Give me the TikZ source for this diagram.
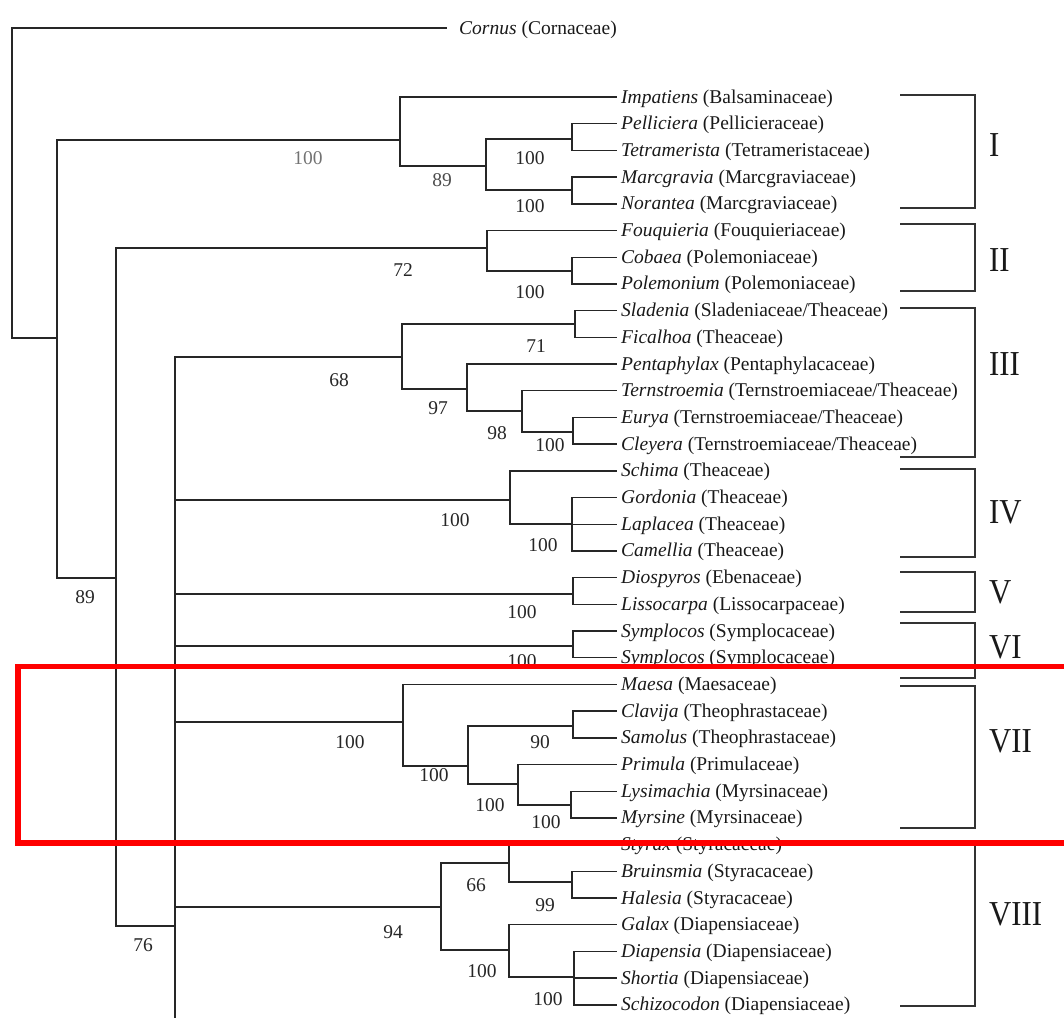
\documentclass[tikz,border=0pt]{standalone}
\usepackage{fontspec}
\usepackage{graphicx}
\setmainfont{Liberation Serif}
\begin{document}
\begin{tikzpicture}[x=1pt,y=-1pt,
  br/.style={draw=black!85, line width=1.4pt},
  bk/.style={draw=black!80, line width=1.8pt},
  leaf/.style={anchor=base west, inner sep=0pt, font=\fontsize{19.5}{20}\selectfont, text=black!90},
  sup/.style={inner sep=0pt, font=\fontsize{19.5}{20}\selectfont, text=black!85},
  clade/.style={anchor=base west, inner sep=0pt, font=\fontsize{35}{36}\selectfont, text=black!90}]
\useasboundingbox (0,0) rectangle (1064,1017);

% leaf attachment points
\foreach \i in {0,...,34} { \coordinate (l\i) at (617, 97+26.7*\i); }
\coordinate (lc) at (447,28);

% internal nodes
\coordinate (root) at (12,183);
\coordinate (A) at (57,338);
\coordinate (I) at (400,140);
\coordinate (nIa) at (486,166);
\coordinate (nPe) at (572,139);
\coordinate (nMa) at (572,190);
\coordinate (B) at (116,578);
\coordinate (II) at (487,248);
\coordinate (nCo) at (572,271);
\coordinate (C) at (175,926);
\coordinate (Cend) at (175,1040);
\coordinate (III) at (402,357);
\coordinate (nSl) at (575,324);
\coordinate (nPen) at (467,389);
\coordinate (nTe) at (522,411);
\coordinate (nEu) at (573,432);
\coordinate (IV) at (510,500);
\coordinate (nGo) at (572,524);
\coordinate (V) at (573,594);
\coordinate (VI) at (573,646);
\coordinate (VII) at (403,722);
\coordinate (nCl) at (468,766);
\coordinate (nCS) at (573,726);
\coordinate (nPr) at (518,784);
\coordinate (nLy) at (571,805);
\coordinate (VIII) at (441,907);
\coordinate (nSt) at (509,863);
\coordinate (nBr) at (572,882);
\coordinate (nGa) at (509,950);
\coordinate (nDi) at (574,977);

% branches
\draw[br] (root) |- (lc);
\draw[br] (root) |- (A);
\draw[br] (A) |- (I);
\draw[br] (A) |- (B);
\draw[br] (I) |- (l0);
\draw[br] (I) |- (nIa);
\draw[br] (nIa) |- (nPe);
\draw[br] (nIa) |- (nMa);
\draw[br] (nPe) |- (l1);
\draw[br] (nPe) |- (l2);
\draw[br] (nMa) |- (l3);
\draw[br] (nMa) |- (l4);
\draw[br] (B) |- (II);
\draw[br] (B) |- (C);
\draw[br] (II) |- (l5);
\draw[br] (II) |- (nCo);
\draw[br] (nCo) |- (l6);
\draw[br] (nCo) |- (l7);
\draw[br] (C) |- (III);
\draw[br] (C) |- (IV);
\draw[br] (C) |- (V);
\draw[br] (C) |- (VI);
\draw[br] (C) |- (VII);
\draw[br] (C) |- (VIII);
\draw[br] (C) -- (Cend);
\draw[br] (III) |- (nSl);
\draw[br] (III) |- (nPen);
\draw[br] (nSl) |- (l8);
\draw[br] (nSl) |- (l9);
\draw[br] (nPen) |- (l10);
\draw[br] (nPen) |- (nTe);
\draw[br] (nTe) |- (l11);
\draw[br] (nTe) |- (nEu);
\draw[br] (nEu) |- (l12);
\draw[br] (nEu) |- (l13);
\draw[br] (IV) |- (l14);
\draw[br] (IV) |- (nGo);
\draw[br] (nGo) |- (l15);
\draw[br] (nGo) |- (l16);
\draw[br] (nGo) |- (l17);
\draw[br] (V) |- (l18);
\draw[br] (V) |- (l19);
\draw[br] (VI) |- (l20);
\draw[br] (VI) |- (l21);
\draw[br] (VII) |- (l22);
\draw[br] (VII) |- (nCl);
\draw[br] (nCl) |- (nCS);
\draw[br] (nCl) |- (nPr);
\draw[br] (nCS) |- (l23);
\draw[br] (nCS) |- (l24);
\draw[br] (nPr) |- (l25);
\draw[br] (nPr) |- (nLy);
\draw[br] (nLy) |- (l26);
\draw[br] (nLy) |- (l27);
\draw[br] (VIII) |- (nSt);
\draw[br] (VIII) |- (nGa);
\draw[br] (nSt) |- (l28);
\draw[br] (nSt) |- (nBr);
\draw[br] (nBr) |- (l29);
\draw[br] (nBr) |- (l30);
\draw[br] (nGa) |- (l31);
\draw[br] (nGa) |- (nDi);
\draw[br] (nDi) |- (l32);
\draw[br] (nDi) |- (l33);
\draw[br] (nDi) |- (l34);

% leaf labels
\node[leaf] (tc) at (459,34) {\textit{Cornus} (Cornaceae)};
\node[leaf] (t0) at (621,103.0) {\textit{Impatiens} (Balsaminaceae)};
\node[leaf] (t1) at (621,129.7) {\textit{Pelliciera} (Pellicieraceae)};
\node[leaf] (t2) at (621,156.4) {\textit{Tetramerista} (Tetrameristaceae)};
\node[leaf] (t3) at (621,183.1) {\textit{Marcgravia} (Marcgraviaceae)};
\node[leaf] (t4) at (621,209.8) {\textit{Norantea} (Marcgraviaceae)};
\node[leaf] (t5) at (621,236.5) {\textit{Fouquieria} (Fouquieriaceae)};
\node[leaf] (t6) at (621,263.2) {\textit{Cobaea} (Polemoniaceae)};
\node[leaf] (t7) at (621,289.9) {\textit{Polemonium} (Polemoniaceae)};
\node[leaf] (t8) at (621,316.6) {\textit{Sladenia} (Sladeniaceae/Theaceae)};
\node[leaf] (t9) at (621,343.3) {\textit{Ficalhoa} (Theaceae)};
\node[leaf] (t10) at (621,370.0) {\textit{Pentaphylax} (Pentaphylacaceae)};
\node[leaf] (t11) at (621,396.7) {\textit{Ternstroemia} (Ternstroemiaceae/Theaceae)};
\node[leaf] (t12) at (621,423.4) {\textit{Eurya} (Ternstroemiaceae/Theaceae)};
\node[leaf] (t13) at (621,450.1) {\textit{Cleyera} (Ternstroemiaceae/Theaceae)};
\node[leaf] (t14) at (621,476.8) {\textit{Schima} (Theaceae)};
\node[leaf] (t15) at (621,503.5) {\textit{Gordonia} (Theaceae)};
\node[leaf] (t16) at (621,530.2) {\textit{Laplacea} (Theaceae)};
\node[leaf] (t17) at (621,556.9) {\textit{Camellia} (Theaceae)};
\node[leaf] (t18) at (621,583.6) {\textit{Diospyros} (Ebenaceae)};
\node[leaf] (t19) at (621,610.3) {\textit{Lissocarpa} (Lissocarpaceae)};
\node[leaf] (t20) at (621,637.0) {\textit{Symplocos} (Symplocaceae)};
\node[leaf] (t21) at (621,663.7) {\textit{Symplocos} (Symplocaceae)};
\node[leaf] (t22) at (621,690.4) {\textit{Maesa} (Maesaceae)};
\node[leaf] (t23) at (621,717.1) {\textit{Clavija} (Theophrastaceae)};
\node[leaf] (t24) at (621,743.8) {\textit{Samolus} (Theophrastaceae)};
\node[leaf] (t25) at (621,770.5) {\textit{Primula} (Primulaceae)};
\node[leaf] (t26) at (621,797.2) {\textit{Lysimachia} (Myrsinaceae)};
\node[leaf] (t27) at (621,823.9) {\textit{Myrsine} (Myrsinaceae)};
\node[leaf] (t28) at (621,850.6) {\textit{Styrax} (Styracaceae)};
\node[leaf] (t29) at (621,877.3) {\textit{Bruinsmia} (Styracaceae)};
\node[leaf] (t30) at (621,904.0) {\textit{Halesia} (Styracaceae)};
\node[leaf] (t31) at (621,930.7) {\textit{Galax} (Diapensiaceae)};
\node[leaf] (t32) at (621,957.4) {\textit{Diapensia} (Diapensiaceae)};
\node[leaf] (t33) at (621,984.1) {\textit{Shortia} (Diapensiaceae)};
\node[leaf] (t34) at (621,1010.8) {\textit{Schizocodon} (Diapensiaceae)};

% support values
\node[sup, text=black!55] (s1) at (308,158) {100};
\node[sup, text=black!70] (s2) at (442,180) {89};
\node[sup] (s3) at (530,158) {100};
\node[sup] (s4) at (530,206) {100};
\node[sup] (s5) at (403,270) {72};
\node[sup] (s6) at (530,292) {100};
\node[sup] (s7) at (85,597) {89};
\node[sup] (s8) at (339,380) {68};
\node[sup] (s9) at (536,346) {71};
\node[sup] (s10) at (438,408) {97};
\node[sup] (s11) at (497,433) {98};
\node[sup] (s12) at (550,445) {100};
\node[sup] (s13) at (455,520) {100};
\node[sup] (s14) at (543,545) {100};
\node[sup] (s15) at (522,612) {100};
\node[sup] (s16) at (522,661) {100};
\node[sup] (s17) at (350,742) {100};
\node[sup] (s18) at (540,742) {90};
\node[sup] (s19) at (434,775) {100};
\node[sup] (s20) at (490,805) {100};
\node[sup] (s21) at (546,822) {100};
\node[sup] (s22) at (143,945) {76};
\node[sup] (s23) at (393,932) {94};
\node[sup] (s24) at (476,885) {66};
\node[sup] (s25) at (545,905) {99};
\node[sup] (s26) at (482,971) {100};
\node[sup] (s27) at (548,999) {100};

% clade brackets
\foreach \nm/\ya/\yb in {bI/95/208, bII/224/291, bIII/308/457, bIV/469/557, bV/572/612, bVI/623/678, bVII/686/828, bVIII/845/1006} {
  \coordinate (\nm t) at (900,\ya);
  \coordinate (\nm b) at (900,\yb);
}
\foreach \nm in {bI,bII,bIII,bIV,bV,bVI,bVII,bVIII} {
  \draw[bk] (\nm t) -- ++(75,0) |- (\nm b);
}
\node[clade] (cI) at (989,156) {\scalebox{0.88}[1]{I}};
\node[clade] (cII) at (989,271) {\scalebox{0.88}[1]{II}};
\node[clade] (cIII) at (989,375) {\scalebox{0.88}[1]{III}};
\node[clade] (cIV) at (989,523) {\scalebox{0.88}[1]{IV}};
\node[clade] (cV) at (989,603) {\scalebox{0.88}[1]{V}};
\node[clade] (cVI) at (989,658) {\scalebox{0.88}[1]{VI}};
\node[clade] (cVII) at (989,752) {\scalebox{0.88}[1]{VII}};
\node[clade] (cVIII) at (989,925) {\scalebox{0.88}[1]{VIII}};

% highlight box
\draw[red, line width=5.5pt] (18,666.5) rectangle (1090,843);
\end{tikzpicture}
\end{document}
